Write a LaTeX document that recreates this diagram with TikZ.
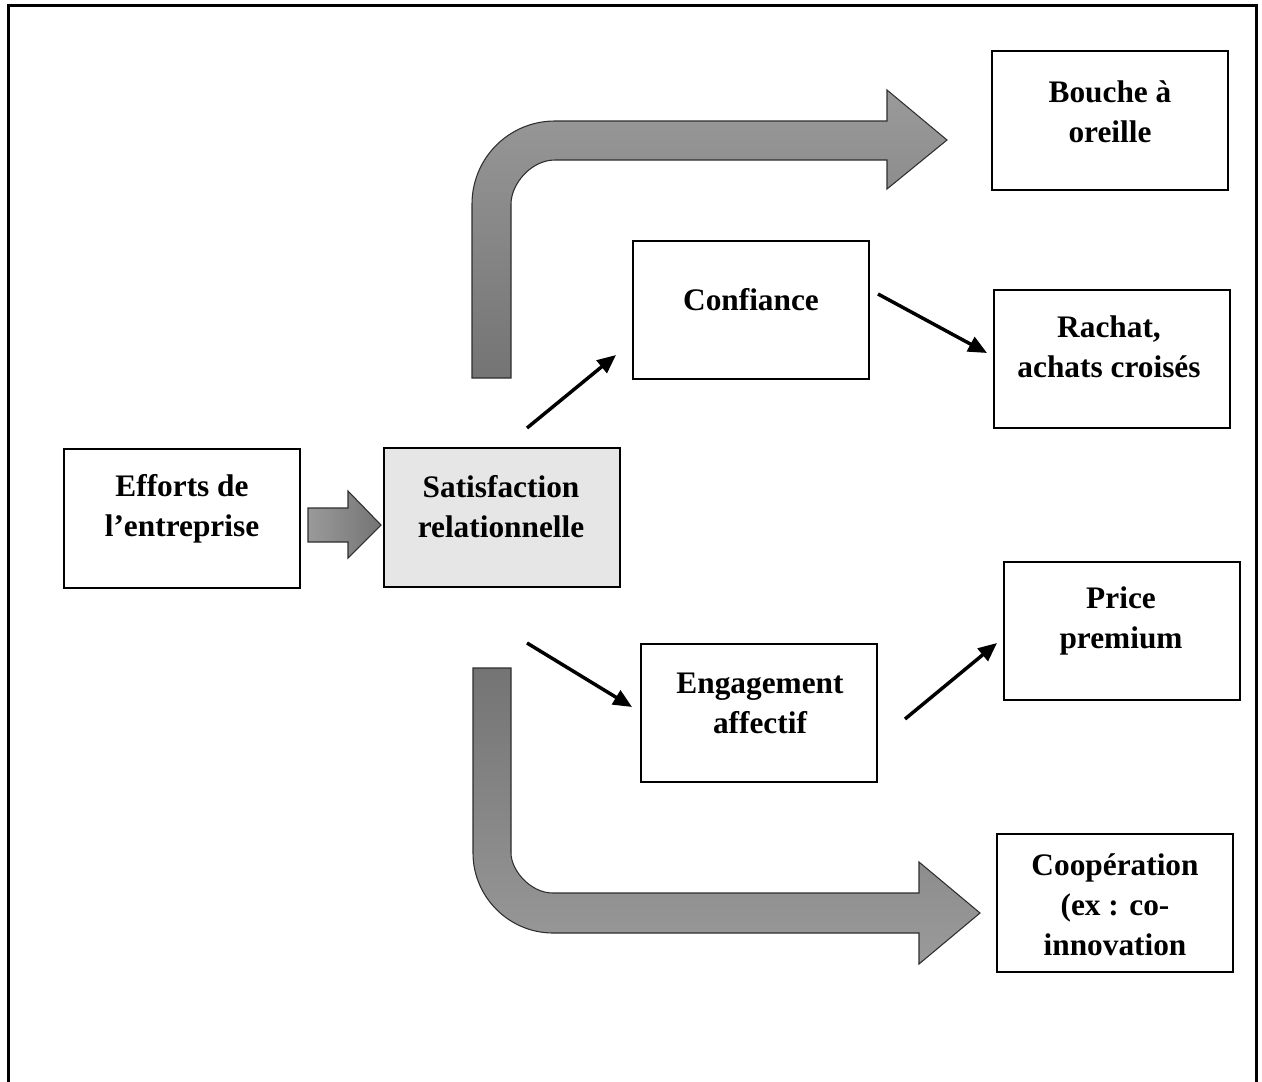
\documentclass[tikz,border=0pt]{standalone}
\usepackage{fontspec}
\setmainfont{Liberation Serif}
\usetikzlibrary{arrows.meta}
\definecolor{arrowlight}{HTML}{9A9A9A}
\definecolor{arrowdark}{HTML}{747474}
\definecolor{satfill}{HTML}{E6E6E6}
\definecolor{arrowedge}{HTML}{2E2E2E}
\begin{document}
\begin{tikzpicture}[x=0.75pt,y=-0.75pt,
  box/.style={draw, line width=1.5pt, minimum width=177pt, minimum height=104pt, inner sep=0pt},
  lbl/.style={font=\fontsize{23.5}{30}\selectfont\bfseries, align=center, inner sep=0pt},
  conn/.style={line width=2.6pt, -{Triangle[length=14pt,width=12pt]}},
  bigarrow/.style={draw=arrowedge, line width=0.8pt}]
\useasboundingbox (0,0) rectangle (1262,1081);

% outer frame, open at the bottom
\draw[line width=2.25pt] (8,1095) -- (8,6) -- (1256,6) -- (1256,1095);

% boxes
\node[box] (eff) at (182,518.5) {};
\node[box, fill=satfill] (sat) at (501.5,517.5) {};
\node[box] (conf) at (751,310) {};
\node[box] (bouche) at (1110,120.5) {};
\node[box] (rachat) at (1111.5,359) {};
\node[box] (price) at (1121.5,631) {};
\node[box] (eng) at (759,713) {};
\node[box] (coop) at (1115,903) {};

% box texts
\node[lbl] (efft) at (182,509) {Efforts de\\l’entreprise};
\node[lbl] (satt) at (501,507) {Satisfaction\\relationnelle};
\node[lbl] (conft) at (751,300) {Confiance};
\node[lbl] (bouchet) at (1110,112) {Bouche à\\oreille};
\node[lbl] (rachatt) at (1109,347) {Rachat,\\achats croisés};
\node[lbl] (pricet) at (1121,621) {Price\\premium};
\node[lbl] (engt) at (760,703) {Engagement\\affectif};
\node[lbl] (coopt) at (1115,905) {Coopération\\(ex : co-\\innovation};

% block arrow between the first two boxes
\shade[bigarrow, left color=arrowlight, right color=arrowdark]
  (308,508) -- (348,508) -- (348,491) -- (381,525) -- (348,558) -- (348,542) -- (308,542) -- cycle;

% upper bent arrow
\shade[bigarrow, top color=arrowlight, bottom color=arrowdark]
  (472,378) -- (472,204) .. controls (472,158) and (509,121) .. (555,121)
  -- (887,121) -- (887,90) -- (947,140) -- (887,189) -- (887,160) -- (555,160)
  .. controls (531,160) and (511,184) .. (511,204) -- (511,378) -- cycle;

% lower bent arrow
\shade[bigarrow, top color=arrowdark, bottom color=arrowlight]
  (473,668) -- (473,853) .. controls (473,897) and (509,933) .. (553,933)
  -- (919,933) -- (919,964) -- (980,913) -- (919,862) -- (919,893) -- (553,893)
  .. controls (530,893) and (511,870) .. (511,853) -- (511,668) -- cycle;

% connector end points
\coordinate (s1) at (527,428);
\coordinate (c1) at (616,355);
\coordinate (c2) at (878,294);
\coordinate (r1) at (987,353);
\coordinate (s2) at (527,643);
\coordinate (e1) at (632,707);
\coordinate (e2) at (905,719);
\coordinate (p1) at (997,643);

\draw[conn] (s1) -- (c1);
\draw[conn] (c2) -- (r1);
\draw[conn] (s2) -- (e1);
\draw[conn] (e2) -- (p1);
\end{tikzpicture}
\end{document}
